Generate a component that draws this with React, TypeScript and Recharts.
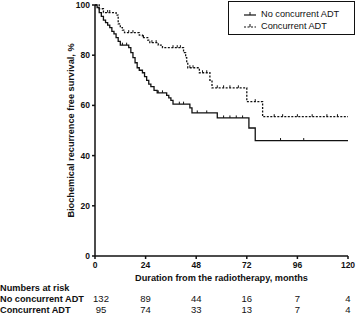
import React from "react";
import {
  ComposedChart,
  Line,
  Scatter,
  XAxis,
  YAxis,
  Legend,
  Label,
} from "recharts";

// Kaplan-Meier steps (months, % free of recurrence)
const noAdtMonths = [0, 1, 2, 3, 4, 5, 6, 7, 8, 9, 10, 11, 12, 16, 17, 18, 19, 20, 21, 22.5, 23.5, 24.5, 25.5, 26.5, 28, 29.5, 34, 35, 36, 37, 45, 46, 58, 73, 76, 120];
const noAdtSurv = [100, 99, 97, 95.5, 94, 93, 92, 91, 89.5, 88.5, 87, 85.5, 84, 83, 81, 79, 77, 75, 74, 73, 71.5, 70, 68.5, 67.5, 66, 65, 64, 63, 62, 60.5, 59, 57, 55, 51, 46, 46];
const adtMonths = [0, 2, 4, 10, 11, 12, 13, 14, 21, 22.5, 25, 26, 30, 32, 42, 43, 43.5, 44, 49.5, 54.5, 55.5, 72, 79.5, 120];
const adtSurv = [100, 98.5, 97, 96, 92.5, 91, 90, 89, 88, 87, 86, 85, 84, 83, 81, 79, 77, 75, 73, 70, 67, 61.5, 55.5, 55.5];

// censored observations (months)
const noAdtCensored = [13, 15, 30, 32, 40, 42, 48.5, 53, 61, 64, 67, 70, 88, 99];
const adtCensored = [6, 7, 16, 18, 23, 27, 29, 37, 39, 40.5, 45, 46.5, 51, 53, 58, 61, 64, 68, 76, 85, 89, 96, 103, 110, 115];

const xTicks = [0, 24, 48, 72, 96, 120];
const yTicks = [0, 20, 40, 60, 80, 100];
const riskNoAdt = [132, 89, 44, 16, 7, 4];
const riskAdt = [95, 74, 33, 13, 7, 4];

const FONT = "'Liberation Sans', Arial, sans-serif";

const toPoints = (t: number[], s: number[]) => t.map((m, i) => ({ month: m, surv: s[i] }));

// survival level at time m on a step curve
const levelAt = (t: number[], s: number[], m: number) => {
  let v = s[0];
  for (let i = 0; i < t.length; i++) if (t[i] <= m) v = s[i];
  return v;
};

const noAdtData = toPoints(noAdtMonths, noAdtSurv);
const adtData = toPoints(adtMonths, adtSurv);
const noAdtMarks = noAdtCensored.map((m) => ({ month: m, surv: levelAt(noAdtMonths, noAdtSurv, m) }));
const adtMarks = adtCensored.map((m) => ({ month: m, surv: levelAt(adtMonths, adtSurv, m) }));

const Tick = (props: any) => {
  const { x, y, payload, index } = props;
  const i = xTicks.indexOf(payload.value);
  const shift = index === 0 ? 6 : 0;
  return (
    <g fontFamily={FONT} fill="#111">
      <text x={x} y={y + 7} textAnchor="middle" fontSize={8.5} fontWeight="bold">
        {payload.value}
      </text>
      <text x={x + shift} y={y + 41} textAnchor="middle" fontSize={9.5}>
        {riskNoAdt[i]}
      </text>
      <text x={x + shift} y={y + 52} textAnchor="middle" fontSize={9.5}>
        {riskAdt[i]}
      </text>
    </g>
  );
};

const CensorMark = (props: any) => {
  const { cx, cy } = props;
  return <line x1={cx} x2={cx} y1={cy - 2.5} y2={cy} stroke="#111" strokeWidth={1} />;
};

const LegendBox = () => (
  <div
    style={{
      width: 127,
      height: 34,
      border: "1.5px solid #111",
      fontFamily: FONT,
      fontSize: 9.2,
      color: "#111",
      boxSizing: "border-box",
      paddingTop: 6,
    }}
  >
    {[
      { name: "No concurrent ADT", dash: undefined },
      { name: "Concurrent ADT", dash: "2 1.5" },
    ].map((it) => (
      <div key={it.name} style={{ display: "flex", alignItems: "center", height: 12 }}>
        <svg width={32} height={10} style={{ marginLeft: 14 }}>
          <line x1={1} x2={13} y1={6} y2={6} stroke="#111" strokeWidth={1.2} strokeDasharray={it.dash} />
          <line x1={7} x2={7} y1={3} y2={6} stroke="#111" strokeWidth={1} />
        </svg>
        <span style={{ marginLeft: -14 }}>{it.name}</span>
      </div>
    ))}
  </div>
);

const rowLabel: React.CSSProperties = {
  position: "absolute",
  left: 0,
  fontFamily: FONT,
  fontSize: 9.2,
  fontWeight: "bold",
  color: "#111",
  lineHeight: "11px",
  whiteSpace: "nowrap",
};

export default function App() {
  return (
    <div style={{ position: "absolute", left: 0, top: 0, width: 358, height: 314, background: "#fff" }}>
      <ComposedChart width={358} height={314} margin={{ top: 5, right: 10, bottom: 33, left: 0 }}>
        <XAxis
          dataKey="month"
          type="number"
          domain={[0, 120]}
          ticks={xTicks}
          allowDuplicatedCategory={false}
          stroke="#111"
          strokeWidth={1.5}
          tickSize={3}
          height={25}
          tick={<Tick />}
          interval={0}
        >
          <Label
            value="Duration from the radiotherapy, months"
            position="insideBottom"
            offset={0}
            style={{ fontFamily: FONT, fontSize: 9.2, fontWeight: "bold", fill: "#111" }}
          />
        </XAxis>
        <YAxis
          dataKey="surv"
          type="number"
          domain={[0, 100]}
          ticks={yTicks}
          width={95}
          stroke="#111"
          strokeWidth={1.5}
          tickSize={3}
          tick={{ fontFamily: FONT, fontSize: 8.5, fontWeight: "bold", fill: "#111" }}
        >
          <Label
            value="Biochemical recurrence free survival, %"
            angle={-90}
            position="center"
            dx={23}
            style={{ fontFamily: FONT, fontSize: 9.2, fontWeight: "bold", fill: "#111", textAnchor: "middle" }}
          />
        </YAxis>
        <Legend
          layout="vertical"
          align="center"
          verticalAlign="middle"
          content={<LegendBox />}
          wrapperStyle={{ top: 1, left: 228, width: 128 }}
        />
        <Line
          data={noAdtData}
          dataKey="surv"
          name="No concurrent ADT"
          type="stepAfter"
          stroke="#111"
          strokeWidth={1.3}
          dot={false}
          isAnimationActive={false}
        />
        <Line
          data={adtData}
          dataKey="surv"
          name="Concurrent ADT"
          type="stepAfter"
          stroke="#111"
          strokeWidth={1.3}
          strokeDasharray="2 1.5"
          dot={false}
          isAnimationActive={false}
        />
        <Scatter data={noAdtMarks} dataKey="surv" shape={<CensorMark />} isAnimationActive={false} legendType="none" />
        <Scatter data={adtMarks} dataKey="surv" shape={<CensorMark />} isAnimationActive={false} legendType="none" />
      </ComposedChart>
      <div style={{ ...rowLabel, top: 283 }}>Numbers at risk</div>
      <div style={{ ...rowLabel, top: 294 }}>No concurrent ADT</div>
      <div style={{ ...rowLabel, top: 305 }}>Concurrent ADT</div>
    </div>
  );
}
